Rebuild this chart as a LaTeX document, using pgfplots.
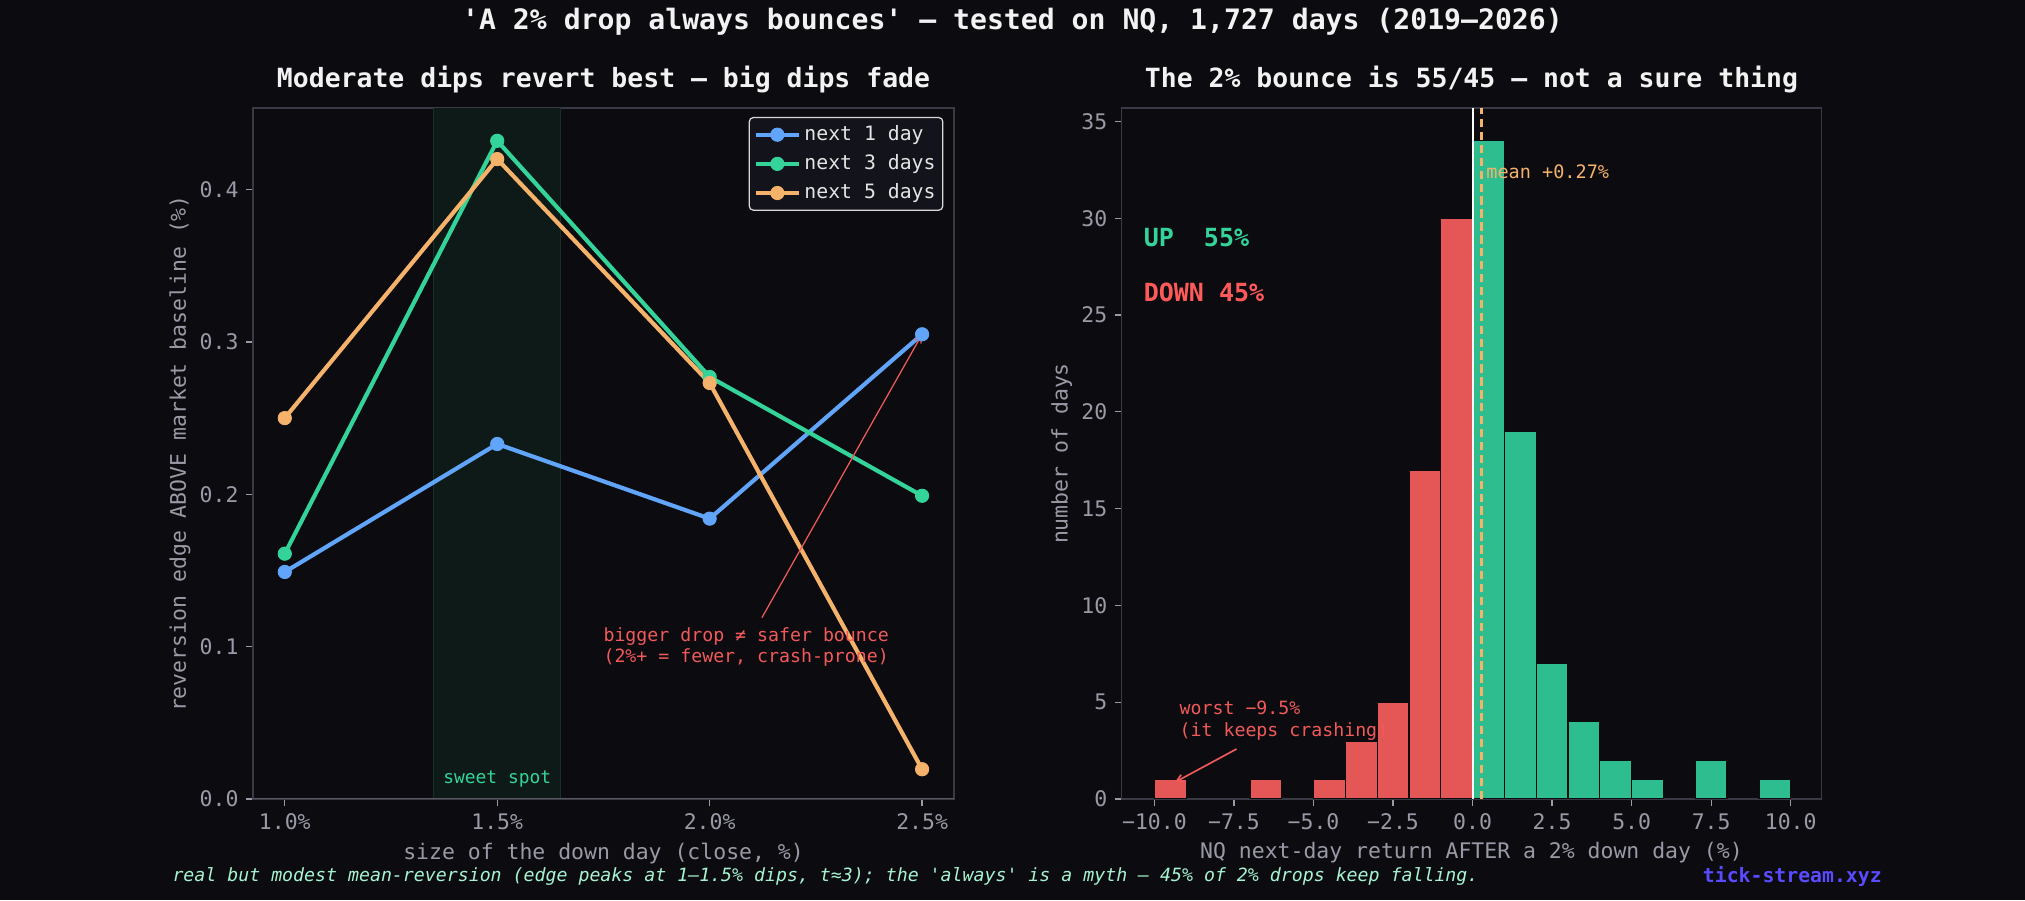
\documentclass[border=0pt]{standalone}
\usepackage{fontspec}
\setmainfont{DejaVu Sans Mono}[Ligatures=TeXOff]
\usepackage{pgfplots}
\pgfplotsset{compat=1.18}
\usetikzlibrary{arrows.meta}

\definecolor{bg}{HTML}{0B0B10}
\definecolor{spine}{HTML}{3A3A44}
\definecolor{zeroline}{HTML}{5A5A62}
\definecolor{tickc}{HTML}{9A9AA6}
\definecolor{titlec}{HTML}{F2F2F2}
\definecolor{cblue}{HTML}{60A5FA}
\definecolor{cgreen}{HTML}{34D399}
\definecolor{corange}{HTML}{F5B26B}
\definecolor{cred}{HTML}{F05A5A}
\definecolor{cred2}{HTML}{FF5A5A}
\definecolor{barred}{HTML}{E55757}
\definecolor{bargreen}{HTML}{2EBD8E}
\definecolor{mint}{HTML}{A7F3D0}
\definecolor{brand}{HTML}{5B4BFF}
\definecolor{sweet}{HTML}{0E1A18}
\definecolor{sweetedge}{HTML}{16302A}
\definecolor{legbg}{HTML}{13141B}
\definecolor{legborder}{HTML}{D8D8D8}
\definecolor{legtext}{HTML}{E4E4E4}

\newcommand\fs[1]{\fontsize{#1}{1.2\dimexpr#1\relax}\selectfont}

\pgfplotsset{darkax/.style={
  scale only axis,
  axis background/.style={fill=bg},
  axis line style={spine, line width=0.7bp},
  every tick/.style={tickc, line width=0.6bp},
  tick align=outside,
  major tick length=3.4bp,
  tick pos=left,
  ticklabel style={font=\fs{10.3bp}, text=tickc},
  /pgf/number format/assume math mode=true,
}}

\begin{document}
\begin{tikzpicture}
\fill[bg] (0,0) rectangle (972bp,432bp);

% ---------------- left panel ----------------
\begin{axis}[darkax,
  at={(121.4bp,48.5bp)}, anchor=south west,
  width=336.5bp, height=331.7bp,
  xmin=0.925, xmax=2.575, ymin=0, ymax=0.4536,
  xtick={1,1.5,2,2.5}, xticklabels={1.0\%,1.5\%,2.0\%,2.5\%},
  ytick={0,0.1,0.2,0.3,0.4}, yticklabels={0.0,0.1,0.2,0.3,0.4},
  legend style={at={(0.985,0.987)}, anchor=north east,
    fill=legbg, draw=legborder, line width=0.6bp, rounded corners=2bp,
    font=\fs{9.5bp}, text=legtext,
    inner xsep=2bp, inner ysep=2bp, row sep=1.5bp,
    nodes={inner sep=1.5bp, text height=7.5bp, text depth=2bp},
    /tikz/every even column/.append style={column sep=4bp}},
  legend cell align=left,
  legend image code/.code={\draw[mark repeat=2,mark phase=2,#1] plot coordinates {(0bp,0bp) (10.5bp,0bp) (21bp,0bp)};},
]
\fill[sweet] (axis cs:1.35,0) rectangle (axis cs:1.65,0.4536);
\draw[sweetedge, line width=0.5bp] (axis cs:1.35,0) -- (axis cs:1.35,0.4536);
\draw[sweetedge, line width=0.5bp] (axis cs:1.65,0) -- (axis cs:1.65,0.4536);
\draw[zeroline, line width=1bp] (axis cs:0.925,0) -- (axis cs:2.575,0);

\addplot[cblue, line width=2bp, mark=*, mark size=3.2bp, mark options={line width=0.4bp}]
  coordinates {(1.0,0.149) (1.5,0.233) (2.0,0.184) (2.5,0.305)};
\addlegendentry{next 1 day}
\addplot[cgreen, line width=2bp, mark=*, mark size=3.2bp, mark options={line width=0.4bp}]
  coordinates {(1.0,0.161) (1.5,0.432) (2.0,0.277) (2.5,0.199)};
\addlegendentry{next 3 days}
\addplot[corange, line width=2bp, mark=*, mark size=3.2bp, mark options={line width=0.4bp}]
  coordinates {(1.0,0.250) (1.5,0.420) (2.0,0.273) (2.5,0.0195)};
\addlegendentry{next 5 days}

\node[text=cgreen, font=\fs{8.6bp}] at (axis cs:1.5,0.013) {sweet spot};
\draw[cred, line width=0.6bp, -{Straight Barb[length=3.5bp,width=3.5bp]}] (axis cs:2.123,0.119) -- (axis cs:2.5,0.305);
\node[text=cred, font=\fontsize{8.75bp}{10bp}\selectfont, align=center, inner sep=0pt] at (axis cs:2.086,0.100)
  {bigger drop ≠ safer bounce\\(2\%+ = fewer, crash-prone)};
\end{axis}

% ---------------- right panel ----------------
\begin{axis}[darkax,
  at={(538.4bp,48.5bp)}, anchor=south west,
  width=335.8bp, height=331.7bp,
  xmin=-11.03, xmax=10.96, ymin=0, ymax=35.7,
  xtick={-10,-7.5,-5,-2.5,0,2.5,5,7.5,10},
  xticklabels={−10.0,−7.5,−5.0,−2.5,0.0,2.5,5.0,7.5,10.0},
  ytick={0,5,10,15,20,25,30,35},
  yticklabels={0,5,10,15,20,25,30,35},
]
\addplot[ybar, bar width=1, bar shift=0pt, fill=barred, draw=bg, line width=0.6bp]
  coordinates {(-9.5,1) (-6.5,1) (-4.5,1) (-3.5,3) (-2.5,5) (-1.5,17) (-0.5,30)};
\addplot[ybar, bar width=1, bar shift=0pt, fill=bargreen, draw=bg, line width=0.6bp]
  coordinates {(0.5,34) (1.5,19) (2.5,7) (3.5,4) (4.5,2) (5.5,1) (7.5,2) (9.5,1)};
\draw[white, line width=1bp] (axis cs:0,0) -- (axis cs:0,35.7);
\draw[corange, line width=1.3bp, dash pattern=on 4bp off 2.2bp] (axis cs:0.27,0) -- (axis cs:0.27,35.7);
\node[anchor=west, inner sep=0pt, text=corange, font=\fs{8.9bp}] at (axis cs:0.42,32.4) {mean +0.27\%};
\node[anchor=west, inner sep=0pt, text=cgreen, font=\fs{12bp}\bfseries] at (rel axis cs:0.031,0.812) {UP\ \ 55\%};
\node[anchor=west, inner sep=0pt, text=cred2, font=\fs{12bp}\bfseries] at (rel axis cs:0.031,0.733) {DOWN 45\%};
\draw[cred, line width=0.8bp, -{Straight Barb[length=3.5bp,width=3.5bp]}] (axis cs:-7.42,2.58) -- (axis cs:-9.36,0.86);
\node[anchor=west, inner sep=0pt, text=cred, font=\fontsize{8.75bp}{10.4bp}\selectfont, align=left] at (axis cs:-9.22,4.03)
  {worst −9.5\%\\(it keeps crashing)};
\end{axis}

% ---------------- titles and labels ----------------
\node[text=titlec, font=\fs{13.5bp}\bfseries] at (486bp,421.4bp)
  {'A 2\% drop always bounces' — tested on NQ, 1,727 days (2019–2026)};
\node[text=titlec, font=\fs{12.7bp}\bfseries] at (289.7bp,394bp)
  {Moderate dips revert best — big dips fade};
\node[text=titlec, font=\fs{12.7bp}\bfseries] at (706.3bp,394bp)
  {The 2\% bounce is 55/45 — not a sure thing};

\node[text=tickc, font=\fs{10.3bp}] at (289.7bp,22.1bp) {size of the down day (close, \%)};
\node[text=tickc, font=\fs{10.3bp}, rotate=90] at (86.4bp,214.3bp) {reversion edge ABOVE market baseline (\%)};
\node[text=tickc, font=\fs{10.3bp}] at (706.3bp,22.6bp) {NQ next-day return AFTER a 2\% down day (\%)};
\node[text=tickc, font=\fs{10.3bp}, rotate=90] at (509.6bp,214.3bp) {number of days};

\node[anchor=west, text=mint, font=\fs{8.75bp}\itshape, inner sep=0pt] at (82.6bp,11.5bp)
  {real but modest mean-reversion (edge peaks at 1–1.5\% dips, t≈3); the 'always' is a myth — 45\% of 2\% drops keep falling.};
\node[anchor=east, text=brand, font=\fs{9.5bp}\bfseries, inner sep=0pt] at (903.4bp,11.5bp) {tick-stream.xyz};

\pgfresetboundingbox
\useasboundingbox (0,0) rectangle (972bp,432bp);
\end{tikzpicture}
\end{document}
